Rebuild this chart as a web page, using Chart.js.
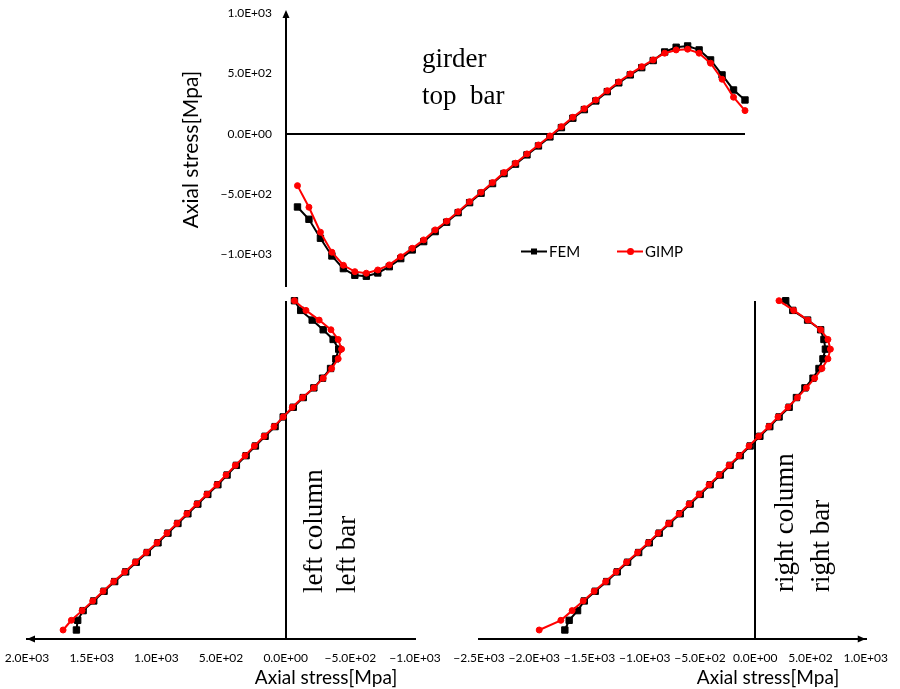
<!DOCTYPE html>
<html><head><meta charset="utf-8">
<script src="https://cdn.jsdelivr.net/npm/chart.js@4.4.1/dist/chart.umd.min.js"></script>
<style>
html,body{margin:0;padding:0;background:#fff;}
#wrap{position:relative;width:900px;height:689px;background:#fff;}
canvas{position:absolute;left:0;top:0;}
</style></head><body>
<div id="wrap">
<canvas id="cTop" width="900" height="689"></canvas>
<canvas id="cLeft" width="900" height="689"></canvas>
<canvas id="cRight" width="900" height="689"></canvas>
</div>
<script>
// ---------- DATA ----------
// girder top bar: point number along girder
const girderPos = [0,1,2,3,4,5,6,7,8,9,10,11,12,13,14,15,16,17,18,19,20,21,22,23,24,25,26,27,28,29,30,31,32,33,34,35,36,37,38,39];
const girderFEM = [-608,-710,-867,-1014,-1119,-1174,-1182,-1155,-1103,-1036,-964,-895,-812,-734,-655,-572,-494,-414,-331,-253,-176,-102,-27,50,128,199,271,348,421,487,547,606,677,716,727,694,611,487,362,279];
const girderGIMP = [-431,-610,-817,-983,-1091,-1144,-1157,-1130,-1088,-1020,-950,-881,-798,-726,-647,-564,-486,-406,-323,-245,-168,-94,-19,58,136,207,279,356,429,495,555,611,667,694,700,667,584,451,302,191];
const girderTicks = [-1000,-500,0,500,1000];
const girderTickLabels = ['\u22121.0E+03','\u22125.0E+02','0.0E+00','5.0E+02','1.0E+03'];

// columns: point number from bottom (0) to top (34)
const columnPos = [0,1,2,3,4,5,6,7,8,9,10,11,12,13,14,15,16,17,18,19,20,21,22,23,24,25,26,27,28,29,30,31,32,33,34];
const leftFEM  = [1618,1608,1566,1484,1404,1322,1237,1155,1070,987,910,833,756,679,602,524,453,381,306,234,159,82,19,-59,-136,-218,-285,-347,-388,-410,-367,-290,-205,-116,-68];
const leftGIMP = [1721,1657,1574,1492,1412,1330,1245,1163,1078,995,918,841,764,687,610,532,461,389,314,242,167,90,19,-51,-131,-218,-290,-355,-406,-432,-406,-350,-259,-157,-68];
const leftTicks = [-1000,-500,0,500,1000,1500,2000];
const leftTickLabels = ['\u22121.0E+03','\u22125.0E+02','0.0E+00','5.0E+02','1.0E+03','1.5E+03','2.0E+03'];

const rightFEM  = [-1723,-1684,-1608,-1547,-1448,-1344,-1249,-1155,-1055,-959,-869,-775,-679,-589,-498,-408,-317,-227,-136,-46,42,132,216,307,373,450,523,577,613,635,622,592,474,340,276];
const rightGIMP = [-1955,-1759,-1657,-1557,-1458,-1354,-1259,-1165,-1065,-969,-879,-785,-689,-599,-508,-418,-327,-237,-146,-56,32,122,206,297,382,463,538,604,658,680,658,592,477,348,215];
const rightTicks = [-2500,-2000,-1500,-1000,-500,0,500,1000];
const rightTickLabels = ['\u22122.5E+03','\u22122.0E+03','\u22121.5E+03','\u22121.0E+03','\u22125.0E+02','0.0E+00','5.0E+02','1.0E+03'];

const seriesNames = ['FEM','GIMP'];
// ---------- STYLE ----------
const SANS = 'Lato, "Open Sans", sans-serif';
const SERIF = '"Liberation Serif", "Times New Roman", serif';
Chart.defaults.font.family = SANS;
Chart.defaults.color = '#000';

function fem(data){
  return {label:seriesNames[0], data, borderColor:'#000', backgroundColor:'#000', borderWidth:2,
    pointStyle:'rect', pointRadius:4.5, pointBorderWidth:1, pointBorderColor:'#000', pointBackgroundColor:'#000',
    showLine:true, tension:0, clip:false, order:2};
}
function gimp(data){
  return {label:seriesNames[1], data, borderColor:'#ff0000', backgroundColor:'#ff0000', borderWidth:2,
    pointStyle:'circle', pointRadius:3, pointBorderWidth:1, pointBorderColor:'#ff0000', pointBackgroundColor:'#ff0000',
    showLine:true, tension:0, clip:false, order:1};
}
const zeroGrid = c => (c.tick && c.tick.value === 0) ? '#000' : 'rgba(0,0,0,0)';
const base = {responsive:false, animation:false, devicePixelRatio:1, events:[],
  plugins:{legend:{display:false}, tooltip:{enabled:false}, title:{display:false}}};

function tri(ctx, pts){ctx.save();ctx.fillStyle='#000';ctx.beginPath();ctx.moveTo(pts[0][0],pts[0][1]);ctx.lineTo(pts[1][0],pts[1][1]);ctx.lineTo(pts[2][0],pts[2][1]);ctx.closePath();ctx.fill();ctx.restore();}
function vtext(ctx, txt, x, y, font){ctx.save();ctx.translate(x,y);ctx.rotate(-Math.PI/2);ctx.font=font;ctx.fillStyle='#000';ctx.textAlign='left';ctx.textBaseline='alphabetic';ctx.fillText(txt,0,0);ctx.restore();}
function htext(ctx, txt, x, y, font, align){ctx.save();ctx.font=font;ctx.fillStyle='#000';ctx.textAlign=align||'left';ctx.textBaseline='alphabetic';ctx.fillText(txt,x,y);ctx.restore();}

// ---------- TOP (girder) ----------
new Chart(document.getElementById('cTop'), {
  type:'scatter',
  data:{datasets:[
    fem(girderPos.map((p,i)=>({x:p,y:girderFEM[i]}))),
    gimp(girderPos.map((p,i)=>({x:p,y:girderGIMP[i]})))
  ]},
  options:Object.assign({}, base, {
    layout:{padding:{left:170,right:155,top:13,bottom:403}},
    scales:{
      x:{type:'linear',min:-1,max:39,display:false},
      y:{type:'linear',min:-1263,max:1000,
        afterBuildTicks:s=>{s.ticks=girderTicks.map(v=>({value:v}));},
        afterFit:s=>{s.width=116;},
        grid:{drawTicks:true,tickLength:14,tickColor:'rgba(0,0,0,0)',color:zeroGrid,lineWidth:2},
        border:{display:true,color:'#000',width:2},
        ticks:{padding:0,font:{size:12},callback:v=>girderTickLabels[girderTicks.indexOf(v)]},
        title:{display:true,text:'Axial stress[Mpa]',font:{size:21},padding:{top:9,bottom:0}}
      }
    }
  }),
  plugins:[{id:'topDeco',afterDraw(chart){
    const ctx=chart.ctx, a=chart.chartArea;
    tri(ctx,[[a.left,a.top-3],[a.left-3.5,a.top+5],[a.left+3.5,a.top+5]]);
    htext(ctx,'girder',422,67,'27px '+SERIF);
    htext(ctx,'top  bar',422,104,'27px '+SERIF);
    // legend
    ctx.save();
    ctx.lineWidth=2;ctx.strokeStyle='#000';ctx.beginPath();ctx.moveTo(521,251.5);ctx.lineTo(547,251.5);ctx.stroke();
    ctx.fillStyle='#000';ctx.fillRect(531,248.5,6,6);
    ctx.strokeStyle='#ff0000';ctx.beginPath();ctx.moveTo(617,251.5);ctx.lineTo(643,251.5);ctx.stroke();
    ctx.fillStyle='#ff0000';ctx.beginPath();ctx.arc(630.5,251.5,3.5,0,Math.PI*2);ctx.fill();
    ctx.fillStyle='#000';ctx.font='15px '+SANS;ctx.textBaseline='middle';ctx.textAlign='left';
    ctx.fillText(seriesNames[0],549,252);ctx.fillText(seriesNames[1],645,252);
    ctx.restore();
  }}]
});

// ---------- LEFT column ----------
new Chart(document.getElementById('cLeft'), {
  type:'scatter',
  data:{datasets:[
    fem(columnPos.map((h,i)=>({x:leftFEM[i],y:h}))),
    gimp(columnPos.map((h,i)=>({x:leftGIMP[i],y:h})))
  ]},
  options:Object.assign({}, base, {
    layout:{padding:{left:27,right:485,top:301,bottom:10}},
    scales:{
      x:{type:'linear',reverse:true,min:-1000,max:2000,
        afterBuildTicks:s=>{s.ticks=leftTicks.map(v=>({value:v}));},
        afterFit:s=>{s.height=40;},
        grid:{drawTicks:false,color:zeroGrid,lineWidth:2},
        border:{display:true,color:'#000',width:2},
        ticks:{padding:12,autoSkip:false,maxRotation:0,font:{size:12},callback:v=>leftTickLabels[leftTicks.indexOf(v)]}
      },
      y:{type:'linear',min:-0.93,max:33.97,display:false}
    }
  }),
  plugins:[{id:'leftDeco',afterDraw(chart){
    const ctx=chart.ctx, a=chart.chartArea;
    tri(ctx,[[a.left,a.bottom],[a.left+8,a.bottom-3.5],[a.left+8,a.bottom+3.5]]);
    vtext(ctx,'left column',322,593,'27px '+SERIF);
    vtext(ctx,'left bar',355,593,'27px '+SERIF);
    htext(ctx,'Axial stress[Mpa]',326,684,'19px '+SANS,'center');
  }}]
});

// ---------- RIGHT column ----------
new Chart(document.getElementById('cRight'), {
  type:'scatter',
  data:{datasets:[
    fem(columnPos.map((h,i)=>({x:rightFEM[i],y:h}))),
    gimp(columnPos.map((h,i)=>({x:rightGIMP[i],y:h})))
  ]},
  options:Object.assign({}, base, {
    layout:{padding:{left:479,right:34,top:301,bottom:10}},
    scales:{
      x:{type:'linear',min:-2500,max:1000,
        afterBuildTicks:s=>{s.ticks=rightTicks.map(v=>({value:v}));},
        afterFit:s=>{s.height=40;},
        grid:{drawTicks:false,color:zeroGrid,lineWidth:2},
        border:{display:true,color:'#000',width:2},
        ticks:{padding:12,autoSkip:false,maxRotation:0,font:{size:12},callback:v=>rightTickLabels[rightTicks.indexOf(v)]}
      },
      y:{type:'linear',min:-0.93,max:33.97,display:false}
    }
  }),
  plugins:[{id:'rightDeco',afterDraw(chart){
    const ctx=chart.ctx, a=chart.chartArea;
    tri(ctx,[[a.right,a.bottom],[a.right-8,a.bottom-3.5],[a.right-8,a.bottom+3.5]]);
    vtext(ctx,'right column',793,592,'27px '+SERIF);
    vtext(ctx,'right bar',829,592,'27px '+SERIF);
    htext(ctx,'Axial stress[Mpa]',768,684,'19px '+SANS,'center');
  }}]
});
</script>
</body></html>
